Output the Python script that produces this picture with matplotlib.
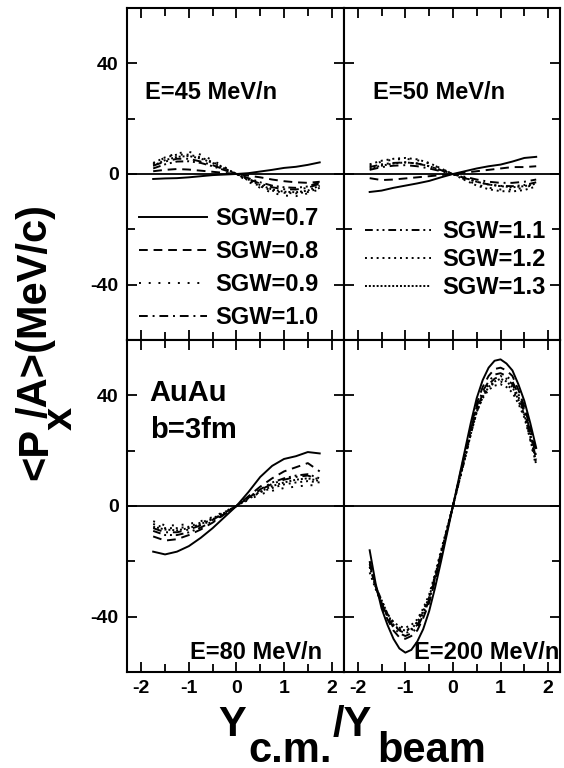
import matplotlib
matplotlib.use("Agg")
import matplotlib.pyplot as plt
from matplotlib.ticker import MultipleLocator

plt.rcParams['font.family'] = ['Liberation Sans', 'DejaVu Sans']
plt.rcParams['font.weight'] = 'bold'

# rapidity grid (Y_cm / Y_beam)
x = [-1.75, -1.5, -1.25, -1.0, -0.75, -0.5, -0.25, 0.0,
     0.25, 0.5, 0.75, 1.0, 1.25, 1.5, 1.75]
# finer grid for the 200 MeV/n panel (large curvature)
x200 = [-1.75, -1.625, -1.5, -1.375, -1.25, -1.125, -1.0, -0.875, -0.75,
        -0.625, -0.5, -0.375, -0.25, -0.125, 0.0, 0.125, 0.25, 0.375, 0.5,
        0.625, 0.75, 0.875, 1.0, 1.125, 1.25, 1.375, 1.5, 1.625, 1.75]

sgw = ['0.7', '0.8', '0.9', '1.0', '1.1', '1.2', '1.3']

# <Px/A> (MeV/c), one row per SGW value
e45 = [
    [-1.8, -1.6, -1.5, -1.2, -0.8, -0.4, -0.2, 0, 0.3, 0.9, 1.5, 2.2, 2.6, 3.3, 4.2],
    [1.0, 1.5, 1.8, 1.6, 1.2, 0.8, 0.4, 0, -0.6, -1.2, -2.0, -2.6, -3.0, -3.2, -2.8],
    [3.5, 6.0, 7.5, 8.0, 7.0, 5.0, 2.5, 0, -2.8, -5.0, -6.8, -7.8, -8.0, -7.0, -5.5],
    [3.0, 4.5, 5.5, 5.5, 4.5, 3.2, 1.6, 0, -1.8, -3.5, -4.8, -5.5, -5.6, -5.0, -3.5],
    [2.0, 3.5, 4.5, 4.6, 4.0, 2.8, 1.4, 0, -1.5, -3.0, -4.2, -4.8, -5.0, -4.5, -3.0],
    [4.0, 6.0, 7.0, 7.0, 6.0, 4.3, 2.2, 0, -2.3, -4.5, -6.0, -6.8, -7.0, -6.5, -5.0],
    [3.0, 5.0, 6.2, 6.5, 5.6, 4.0, 2.0, 0, -2.0, -4.0, -5.6, -6.4, -6.6, -6.0, -4.2],
]

e50 = [
    [-6.5, -6.0, -5.0, -4.2, -3.4, -2.5, -1.2, 0, 1.0, 2.0, 2.8, 3.4, 4.5, 5.8, 6.2],
    [-1.5, -2.2, -2.0, -1.6, -1.2, -0.8, -0.4, 0, 0.5, 1.0, 1.5, 2.0, 2.5, 2.5, 2.8],
    [3.0, 4.5, 5.2, 5.5, 5.0, 3.8, 2.0, 0, -2.0, -3.8, -5.0, -5.6, -5.6, -5.0, -3.5],
    [1.5, 2.5, 3.0, 3.2, 2.8, 2.0, 1.0, 0, -1.0, -2.0, -2.8, -3.2, -3.2, -2.8, -2.0],
    [2.5, 3.5, 4.0, 4.2, 3.8, 2.8, 1.4, 0, -1.5, -2.8, -3.8, -4.3, -4.4, -4.0, -3.0],
    [3.5, 4.8, 5.5, 5.8, 5.3, 4.0, 2.0, 0, -2.2, -4.2, -5.5, -6.2, -6.3, -5.8, -4.5],
    [2.0, 3.0, 3.8, 4.2, 3.8, 2.8, 1.4, 0, -1.4, -2.8, -3.8, -4.4, -4.8, -4.4, -3.5],
]

e80 = [
    [-16.5, -17.5, -16.5, -14.5, -11.5, -8.0, -4.0, 0, 5.0, 10.5, 14.5, 17.0, 18.0, 19.5, 19.0],
    [-11.0, -12.5, -12.0, -10.5, -8.5, -6.0, -3.0, 0, 3.5, 7.0, 10.0, 12.5, 14.0, 15.5, 12.5],
    [-5.5, -7.0, -7.0, -6.5, -5.5, -4.0, -2.0, 0, 2.2, 4.2, 5.5, 6.5, 7.0, 7.5, 7.5],
    [-8.0, -9.5, -9.5, -8.5, -7.0, -5.0, -2.5, 0, 3.0, 5.8, 8.0, 9.5, 10.5, 11.0, 9.5],
    [-9.0, -10.5, -10.5, -9.5, -7.8, -5.5, -2.8, 0, 3.0, 6.0, 8.5, 10.0, 11.0, 11.5, 10.0],
    [-6.5, -8.0, -8.0, -7.5, -6.0, -4.5, -2.2, 0, 2.5, 5.0, 6.5, 7.8, 8.5, 9.0, 8.5],
    [-7.5, -8.5, -8.8, -8.0, -6.5, -4.8, -2.5, 0, 2.8, 5.2, 7.2, 8.5, 9.5, 10.0, 9.0],
]

e200 = [
    [-16, -28, -37, -43, -48, -51.5, -53, -52, -49, -44.5, -38, -29.5, -20, -10, 0,
     10, 20, 30, 39, 45.5, 50, 52.5, 53, 51.5, 49, 44, 38, 30, 21],
    [-20, -29, -36, -41, -45, -47.5, -48, -47, -45, -40.5, -35, -27, -18, -9, 0,
     9.5, 19, 28.5, 37, 43, 47, 49.5, 50, 49, 47, 42, 36, 28, 20],
    [-22, -29, -34, -39, -42, -44, -45, -44, -42, -38, -33, -25.5, -17, -8.5, 0,
     8.5, 17, 26, 34, 39.5, 43, 44.5, 45, 44, 42, 38, 33, 24, 14],
    [-20, -29, -35, -40, -44, -46, -47, -46, -44, -39.5, -34, -26, -18, -9, 0,
     9, 18, 27.5, 36, 41.5, 45, 47.5, 48, 47, 45, 40.5, 35, 27, 18],
    [-21, -29, -35, -40, -43, -45, -46, -45, -43, -39, -34, -25.5, -17, -8.5, 0,
     9, 18, 27, 35, 40.5, 44, 46, 47, 46, 44, 39.5, 34, 26, 17],
    [-24, -30, -35, -39, -42, -43.5, -44, -43, -41, -37, -32, -24.5, -16, -8, 0,
     8.5, 17, 26, 34, 39, 42, 43.5, 44, 43, 41, 37, 32, 24, 15],
    [-22, -29, -34, -39, -43, -44.5, -45, -44.5, -42, -38, -33, -25, -17, -8.5, 0,
     8.5, 17, 26, 34, 39.5, 43, 45, 46, 45, 43, 38.5, 33, 25, 16],
]

styles = ['-', (0, (4.5, 3)), (0, (1, 4)), (0, (4.5, 2.5, 1, 2.5)),
          (0, (4, 2, 1, 2, 1, 2)), (0, (1, 2)), (0, (1, 1))]

W, H = 564, 768
fig = plt.figure(figsize=(W / 100, H / 100), dpi=100)
axs = fig.subplots(2, 2, sharex=True, sharey=True,
                   gridspec_kw=dict(wspace=0, hspace=0))
fig.subplots_adjust(left=127 / W, right=560 / W, top=1 - 8 / H, bottom=1 - 672 / H)

panels = [(axs[0, 0], x, e45), (axs[0, 1], x, e50),
          (axs[1, 0], x, e80), (axs[1, 1], x200, e200)]

lines = []
for ax, xs, data in panels:
    ax.axhline(0, color='black', lw=1.3, zorder=1)
    lines = []
    for k, ys in enumerate(data):
        ln, = ax.plot(xs, ys, color='black', lw=1.4, ls=styles[k], label='SGW=' + sgw[k])
        lines.append(ln)
    ax.set_xlim(-2.3, 2.25)
    ax.set_ylim(-60, 60)
    ax.xaxis.set_major_locator(MultipleLocator(1))
    ax.xaxis.set_minor_locator(MultipleLocator(0.5))
    ax.yaxis.set_major_locator(MultipleLocator(40))
    ax.yaxis.set_minor_locator(MultipleLocator(20))
    ax.tick_params(which='both', direction='in', top=True, right=True,
                   width=1.3, labelsize=14, pad=6)
    ax.tick_params(which='major', length=7)
    ax.tick_params(which='minor', length=6)
    for s in ax.spines.values():
        s.set_linewidth(1.5)

for ax in axs[1]:
    ax.set_xticks([-2, -1, 0, 1, 2])
    ax.set_xticklabels(['-2', '-1', '0', '1', '2'])
for ax in axs[:, 0]:
    ax.set_yticks([-40, 0, 40])
    ax.set_yticklabels(['-40', '0', '40'])

# panel labels
axs[0, 0].text(0.085, 0.745, 'E=45 MeV/n', transform=axs[0, 0].transAxes, fontsize=17, va='center')
axs[0, 1].text(0.135, 0.745, 'E=50 MeV/n', transform=axs[0, 1].transAxes, fontsize=17, va='center')
axs[1, 0].text(0.105, 0.84, 'AuAu', transform=axs[1, 0].transAxes, fontsize=21, va='center')
axs[1, 0].text(0.105, 0.73, 'b=3fm', transform=axs[1, 0].transAxes, fontsize=21, va='center')
axs[1, 0].text(0.29, 0.06, 'E=80 MeV/n', transform=axs[1, 0].transAxes, fontsize=17, va='center')
axs[1, 1].text(0.325, 0.06, 'E=200 MeV/n', transform=axs[1, 1].transAxes, fontsize=17, va='center')

# legend is split over the two upper panels
axs[0, 0].legend(handles=lines[:4], loc='upper left', bbox_to_anchor=(0.055, 0.40),
                 frameon=False, fontsize=17, handlelength=2.9, handletextpad=0.35,
                 labelspacing=0.42, borderpad=0, borderaxespad=0)
axs[0, 1].legend(handles=lines[4:], loc='upper left', bbox_to_anchor=(0.1, 0.36),
                 frameon=False, fontsize=17, handlelength=2.8, handletextpad=0.45,
                 labelspacing=0.2, borderpad=0, borderaxespad=0)

# axis titles built from pieces so subscripts keep full size
fs = 30
def ftext(px, py, s, **kw):
    fig.text(px / W, 1 - py / H, s, fontsize=fs, ha='left', va='baseline', **kw)

ftext(218, 736, 'Y')
ftext(248, 762, 'c.m.')
ftext(333, 736, '/Y')
ftext(377, 762, 'beam')

rot = dict(rotation=90, rotation_mode='anchor')
ftext(47, 480, '<P', **rot)
ftext(72, 430, 'x', **rot)
ftext(47, 418, '/A>(MeV/c)', **rot)

fig.savefig('out.png', dpi=100)
